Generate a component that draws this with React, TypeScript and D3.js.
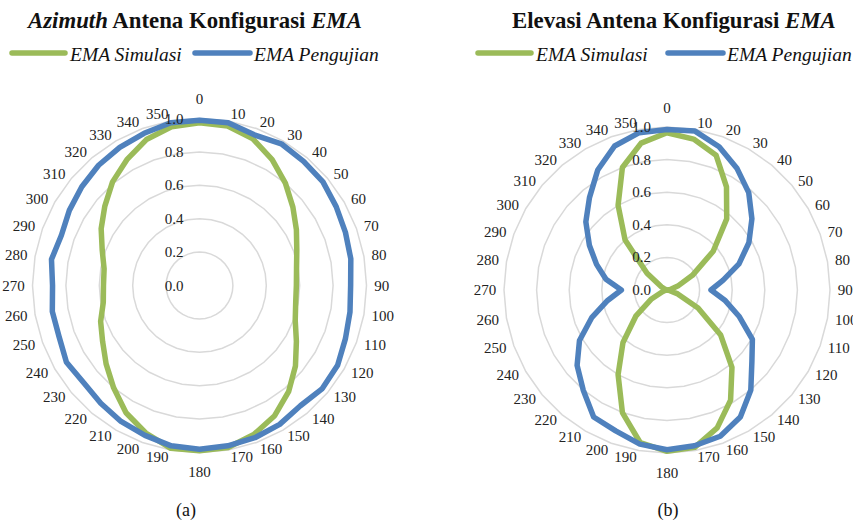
import React from 'react';
import * as d3 from 'd3';

const categories = [0, 10, 20, 30, 40, 50, 60, 70, 80, 90, 100, 110, 120, 130, 140, 150, 160, 170,
  180, 190, 200, 210, 220, 230, 240, 250, 260, 270, 280, 290, 300, 310, 320, 330, 340, 350];

const azimuthSimulasi = [0.975, 0.97, 0.935, 0.87, 0.8, 0.73, 0.67, 0.62, 0.59, 0.58, 0.585, 0.61,
  0.67, 0.75, 0.83, 0.9, 0.95, 0.985, 0.99, 0.99, 0.94, 0.88, 0.8, 0.73, 0.67, 0.63, 0.585, 0.575,
  0.58, 0.62, 0.68, 0.74, 0.81, 0.87, 0.93, 0.965];

const azimuthPengujian = [0.99, 0.99, 0.96, 0.98, 0.97, 0.965, 0.945, 0.93, 0.92, 0.905, 0.915, 0.93,
  0.955, 0.96, 0.94, 0.96, 0.97, 0.975, 0.98, 0.975, 0.955, 0.94, 0.92, 0.905, 0.92, 0.895, 0.895,
  0.88, 0.9, 0.88, 0.9, 0.92, 0.94, 0.955, 0.97, 0.99];

const elevasiSimulasi = [0.965, 0.94, 0.88, 0.73, 0.57, 0.37, 0.18, 0.07, 0.02, 0.0, 0.01, 0.07,
  0.22, 0.43, 0.62, 0.78, 0.9, 0.98, 0.99, 0.95, 0.8, 0.6, 0.42, 0.25, 0.11, 0.03, 0.01, 0.0,
  0.0, 0.01, 0.04, 0.16, 0.4, 0.6, 0.8, 0.915];

const elevasiPengujian = [0.985, 0.99, 0.935, 0.86, 0.78, 0.68, 0.58, 0.47, 0.35, 0.27, 0.36, 0.47,
  0.605, 0.68, 0.8, 0.9, 0.955, 0.97, 0.98, 0.96, 0.92, 0.9, 0.8, 0.72, 0.62, 0.49, 0.37, 0.28,
  0.38, 0.46, 0.55, 0.65, 0.74, 0.85, 0.94, 0.98];

const radialTicks = [0, 0.2, 0.4, 0.6, 0.8, 1.0];
const seriesNames = ['EMA Simulasi', 'EMA Pengujian'];

const GREEN = '#9bbb59';
const BLUE = '#4f81bd';
const GRID = '#d9d9d9';
const FONT = '"Liberation Serif", "Times New Roman", serif';

type RadarProps = { cx: number; cy: number; R: number; sim: number[]; meas: number[] };

function Radar({ cx, cy, R, sim, meas }: RadarProps) {
  const angle = d3.scaleLinear().domain([0, 360]).range([0, 2 * Math.PI]);
  const r = d3.scaleLinear().domain([0, 1]).range([0, R]);
  const seriesLine = d3
    .lineRadial<number>()
    .angle((_, i) => angle(categories[i]))
    .radius((d) => r(d))
    .curve(d3.curveLinearClosed);
  const gridLine = (v: number) =>
    d3
      .lineRadial<number>()
      .angle((c) => angle(c))
      .radius(() => r(v))
      .curve(d3.curveLinearClosed)(categories) || '';

  const labelPos = (c: number) => {
    const a = angle(c);
    const s = Math.sin(a);
    const co = Math.cos(a);
    const w = String(c).length * 7.5;
    const rr = R + 7;
    if (Math.abs(s) < 0.01) {
      return { x: 0, y: -rr * co - Math.sign(co) * 12.5 };
    }
    return { x: rr * s + Math.sign(s) * (w / 2 + 0.7), y: -rr * co };
  };

  return (
    <g transform={`translate(${cx},${cy})`}>
      {radialTicks.filter((t) => t > 0).map((t) => (
        <path key={t} d={gridLine(t)} fill="none" stroke={GRID} strokeWidth={1.5} />
      ))}
      <path d={seriesLine(sim) || ''} fill="none" stroke={GREEN} strokeWidth={5.5} strokeLinejoin="round" />
      <path d={seriesLine(meas) || ''} fill="none" stroke={BLUE} strokeWidth={5.5} strokeLinejoin="round" />
      {categories.map((c) => {
        const p = labelPos(c);
        return (
          <text
            key={c}
            x={p.x}
            y={p.y}
            textAnchor="middle"
            dominantBaseline="central"
            fontSize={15}
            fontFamily={FONT}
            fill="#222"
          >
            {String(c)}
          </text>
        );
      })}
      {radialTicks.map((t) => (
        <text
          key={t}
          x={-16}
          y={-r(t)}
          textAnchor="end"
          dominantBaseline="central"
          fontSize={15}
          fontFamily={FONT}
          fill="#222"
        >
          {t.toFixed(1)}
        </text>
      ))}
    </g>
  );
}

function Legend({ x1, x2 }: { x1: number; x2: number }) {
  const y = 53;
  return (
    <g>
      <line x1={x1} x2={x1 + 53} y1={y} y2={y} stroke={GREEN} strokeWidth={5.5} strokeLinecap="round" />
      <text x={x1 + 58} y={60.5} fontSize={19.5} fontStyle="italic" fontFamily={FONT} fill="#111">
        {seriesNames[0]}
      </text>
      <line x1={x2} x2={x2 + 55} y1={y} y2={y} stroke={BLUE} strokeWidth={5.5} strokeLinecap="round" />
      <text x={x2 + 59} y={60.5} fontSize={19.5} fontStyle="italic" fontFamily={FONT} fill="#111">
        {seriesNames[1]}
      </text>
    </g>
  );
}

export default function App() {
  return (
    <svg
      width={853}
      height={522}
      viewBox="0 0 853 522"
      style={{ position: 'absolute', left: 0, top: 0, display: 'block', background: '#fff' }}
    >
      <rect width={853} height={522} fill="#fff" />
      <text x={28} y={27.5} fontSize={22.8} fontWeight="bold" fontFamily={FONT} fill="#111">
        <tspan fontStyle="italic">Azimuth</tspan>
        <tspan> Antena Konfigurasi </tspan>
        <tspan fontStyle="italic">EMA</tspan>
      </text>
      <text x={512} y={27.5} fontSize={22.8} fontWeight="bold" fontFamily={FONT} fill="#111">
        <tspan>Elevasi Antena Konfigurasi </tspan>
        <tspan fontStyle="italic">EMA</tspan>
      </text>
      <Legend x1={12} x2={195} />
      <Legend x1={478} x2={668} />
      <Radar cx={199.5} cy={285.5} R={167} sim={azimuthSimulasi} meas={azimuthPengujian} />
      <Radar cx={667} cy={290} R={163} sim={elevasiSimulasi} meas={elevasiPengujian} />
      <text x={186} y={516} textAnchor="middle" fontSize={18} fontFamily={FONT} fill="#111">(a)</text>
      <text x={668} y={516} textAnchor="middle" fontSize={18} fontFamily={FONT} fill="#111">(b)</text>
    </svg>
  );
}
